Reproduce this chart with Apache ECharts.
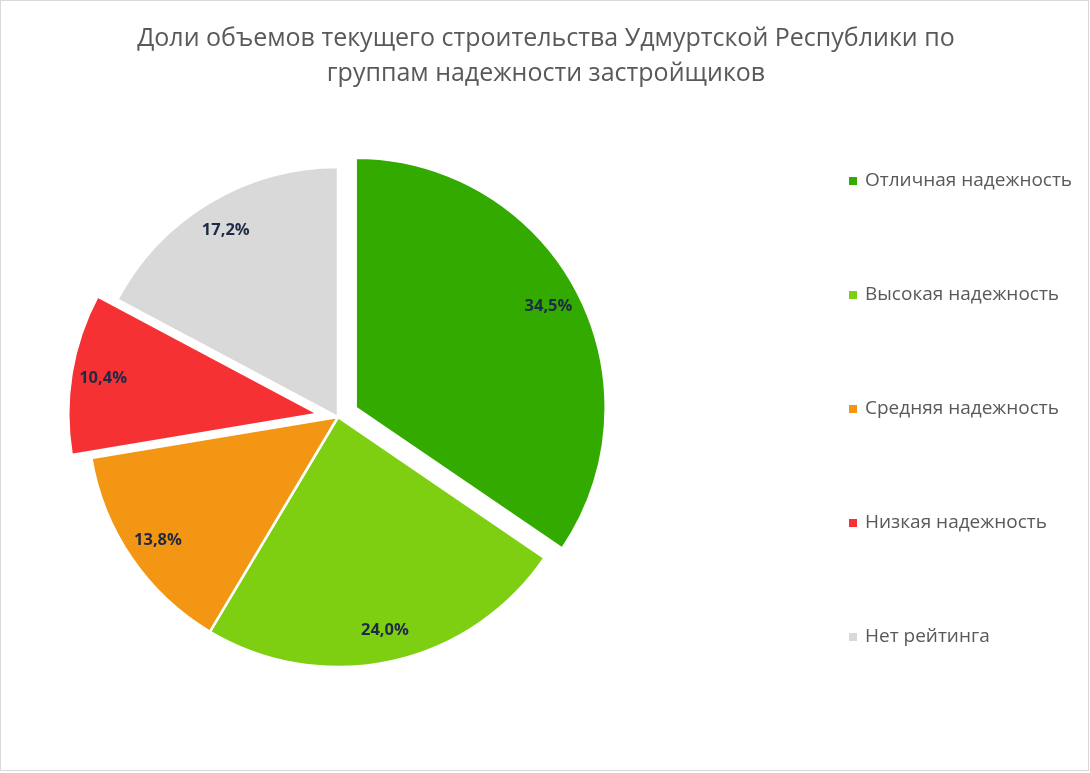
<!DOCTYPE html>
<html>
<head>
<meta charset="utf-8">
<script src="https://cdn.jsdelivr.net/npm/echarts@6/dist/echarts.min.js"></script>
<style>
html,body{margin:0;padding:0;background:#fff;}
#chart{position:absolute;left:0;top:0;width:1089px;height:771px;box-sizing:border-box;border:1px solid #d9d9d9;background:#fff;}
</style>
</head>
<body>
<div id="chart"></div>
<script>
const titleText = 'Доли объемов текущего строительства Удмуртской Республики по\nгруппам надежности застройщиков';
const categories = ['Отличная надежность', 'Высокая надежность', 'Средняя надежность', 'Низкая надежность', 'Нет рейтинга'];
const values = [34.5, 24.0, 13.8, 10.4, 17.2];
const colors = ['#33AA00', '#7ECF12', '#F29613', '#F53134', '#D9D9D9'];
const exploded = [true, false, false, true, false];

const chart = echarts.init(document.getElementById('chart'), null, {renderer: 'canvas'});
const center = [337, 416];
const R = 250;
const OFFSET = 20;

const mainData = categories.map((c, i) => ({
  name: c, value: values[i], selected: exploded[i],
  itemStyle: {color: colors[i]}
}));
const labelData = categories.map((c, i) => ({
  name: c, value: values[i], selected: exploded[i],
  itemStyle: {color: 'rgba(0,0,0,0)'}
}));

chart.setOption({
  animation: false,
  backgroundColor: '#fff',
  title: {
    text: titleText,
    top: 15,
    left: 540,
    textAlign: 'center',
    textStyle: {fontFamily: 'Open Sans', fontSize: 25, fontWeight: 'normal', color: '#595959', lineHeight: 35}
  },
  legend: {
    orient: 'vertical',
    left: 846,
    top: 169,
    padding: 0,
    itemWidth: 10,
    itemHeight: 10,
    itemGap: 92,
    icon: 'rect',
    selectedMode: false,
    data: categories.map((c, i) => ({name: c, itemStyle: {color: colors[i]}})),
    textStyle: {fontFamily: 'Open Sans', fontSize: 19, color: '#595959', lineHeight: 22, padding: [0, 0, 0, 2]}
  },
  series: [
    {
      type: 'pie',
      center: center,
      radius: [0, R],
      startAngle: 90,
      clockwise: true,
      selectedMode: 'multiple',
      selectedOffset: OFFSET,
      silent: true,
      label: {show: false},
      labelLine: {show: false},
      itemStyle: {borderColor: '#fff', borderWidth: 2.5},
      emphasis: {disabled: true},
      data: mainData
    },
    {
      type: 'pie',
      center: center,
      radius: [R - 70, R],
      startAngle: 90,
      clockwise: true,
      selectedMode: 'multiple',
      selectedOffset: OFFSET,
      silent: true,
      label: {
        show: true,
        position: 'inside',
        formatter: p => p.value.toFixed(1).replace('.', ',') + '%',
        fontFamily: 'Open Sans',
        fontSize: 16.5,
        fontWeight: 'bold',
        color: '#1F2A44'
      },
      labelLine: {show: false},
      itemStyle: {borderWidth: 0},
      emphasis: {disabled: true},
      data: labelData
    }
  ]
});
</script>
</body>
</html>
